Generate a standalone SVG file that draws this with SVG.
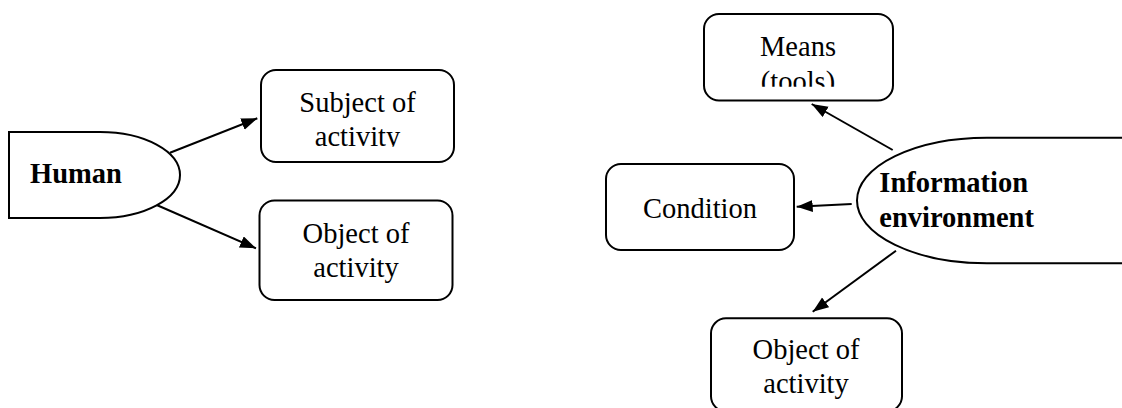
<svg xmlns="http://www.w3.org/2000/svg" width="1122" height="408" viewBox="0 0 1122 408">
<style>
.shape{fill:#fff;stroke:#000;stroke-width:2}
.t{font-family:"Liberation Serif","Times New Roman",serif;font-size:28.5px;fill:#000;text-anchor:middle}
.b{font-weight:bold;text-anchor:start}
.conn line{stroke:#000;stroke-width:2;fill:none}
</style>
<defs>
<marker id="ah" markerUnits="userSpaceOnUse" markerWidth="18" markerHeight="14" refX="16" refY="6" orient="auto">
<path d="M0,0 L16,6 L0,12 Z" fill="#000"/>
</marker>
<clipPath id="clipSubj"><rect x="255" y="65" width="205" height="81.7"/></clipPath>
<clipPath id="clipMeans"><rect x="700" y="10" width="200" height="76.7"/></clipPath>
</defs>
<rect width="1122" height="408" fill="#fff"/>
<g id="human">
<path class="shape" d="M9,132 H100 A80,43 0 0 1 100,218 H9 Z"/>
<text class="t b" x="30" y="182.7">Human</text>
</g>
<g id="subject">
<rect class="shape" x="261" y="70" width="193" height="92" rx="15"/>
<g clip-path="url(#clipSubj)">
<text class="t" x="357.5" y="111.7">Subject of</text>
<text class="t" x="357.5" y="145.5">activity</text>
</g>
</g>
<g id="object-left">
<rect class="shape" x="259.5" y="200.5" width="193" height="99.5" rx="15"/>
<text class="t" x="356" y="242.7">Object of</text>
<text class="t" x="356" y="276.7">activity</text>
</g>
<g id="means">
<rect class="shape" x="704" y="14" width="189" height="86.5" rx="15"/>
<g clip-path="url(#clipMeans)">
<text class="t" x="798" y="56">Means</text>
<text class="t" x="798" y="91">(tools)</text>
</g>
</g>
<g id="condition">
<rect class="shape" x="606" y="164" width="188" height="86" rx="15"/>
<text class="t" x="700" y="218.3">Condition</text>
</g>
<g id="information-environment">
<path class="shape" d="M1130,137.7 H987 A130,62.8 0 0 0 987,263.3 H1130"/>
<text class="t b" x="879.3" y="191.7">Information</text>
<text class="t b" x="879.3" y="226.7">environment</text>
</g>
<g id="object-right">
<rect class="shape" x="711" y="318.3" width="191" height="93" rx="15"/>
<text class="t" x="806" y="359.3">Object of</text>
<text class="t" x="806" y="393.3">activity</text>
</g>
<g id="connectors" class="conn">
<line x1="170" y1="152.7" x2="257.3" y2="118.3" marker-end="url(#ah)"/>
<line x1="156.7" y1="205" x2="256" y2="248.3" marker-end="url(#ah)"/>
<line x1="892.7" y1="150" x2="811.7" y2="104" marker-end="url(#ah)"/>
<line x1="851.7" y1="204" x2="796.7" y2="206.7" marker-end="url(#ah)"/>
<line x1="896" y1="250.7" x2="812.7" y2="311.7" marker-end="url(#ah)"/>
</g>
</svg>
